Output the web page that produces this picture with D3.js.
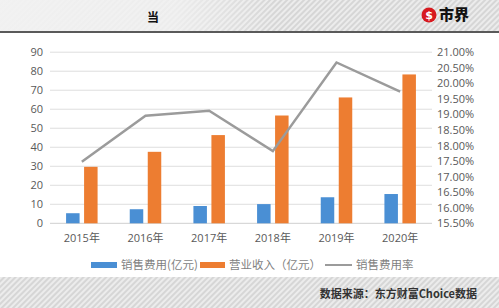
<!DOCTYPE html>
<html>
<head>
<meta charset="utf-8">
<script src="https://cdn.jsdelivr.net/npm/d3@7"></script>
<style>
  body { margin: 0; background: #fff; }
  svg { display: block; font-family: "Open Sans", "Noto Sans CJK SC", sans-serif; }
</style>
</head>
<body>
<div id="chart"></div>
<script>
const years = ["2015年", "2016年", "2017年", "2018年", "2019年", "2020年"];
const salesCost = [5.3, 7.4, 9.1, 10.1, 13.7, 15.4];
const revenue = [29.7, 37.6, 46.4, 56.7, 66.2, 78.3];
const costRate = [17.48, 18.96, 19.12, 17.82, 20.67, 19.73];
const leftTicks = [0, 10, 20, 30, 40, 50, 60, 70, 80, 90];
const rightTicks = [15.5, 16, 16.5, 17, 17.5, 18, 18.5, 19, 19.5, 20, 20.5, 21];
const legendNames = ["销售费用(亿元)", "营业收入（亿元）", "销售费用率"];

const W = 499, H = 308;
const svg = d3.select("#chart").append("svg")
  .attr("width", W)
  .attr("height", H);

// hatched bands
const defs = svg.append("defs");
const hatch = defs.append("pattern")
  .attr("id", "hatch")
  .attr("patternUnits", "userSpaceOnUse")
  .attr("width", 4).attr("height", 4)
  .attr("patternTransform", "rotate(-45)");
hatch.append("rect").attr("width", 4).attr("height", 4).attr("fill", "#d6d6d6");
hatch.append("rect").attr("width", 4).attr("height", 2).attr("fill", "#ececec");

const fade = defs.append("linearGradient").attr("id", "fade")
  .attr("x1", "0%").attr("x2", "100%");
fade.append("stop").attr("offset", "0%").attr("stop-color", "#f2f2f2").attr("stop-opacity", 0.95);
fade.append("stop").attr("offset", "35%").attr("stop-color", "#f2f2f2").attr("stop-opacity", 0.8);
fade.append("stop").attr("offset", "55%").attr("stop-color", "#f2f2f2").attr("stop-opacity", 0);

svg.append("rect").attr("x", 0).attr("y", 0).attr("width", W).attr("height", 32).attr("fill", "url(#hatch)");
svg.append("rect").attr("x", 0).attr("y", 0).attr("width", W).attr("height", 32).attr("fill", "url(#fade)");
svg.append("rect").attr("x", 0).attr("y", 31).attr("width", W).attr("height", 2).attr("fill", "#5a5a5a");
svg.append("rect").attr("x", 0).attr("y", 277).attr("width", W).attr("height", H - 277).attr("fill", "url(#hatch)");

// header bits
svg.append("text").attr("x", 153).attr("y", 22)
  .attr("text-anchor", "middle")
  .style("font-family", "Noto Sans CJK SC").style("font-weight", 700).style("font-size", "12px")
  .attr("fill", "#111").text("当");

svg.append("circle").attr("cx", 429).attr("cy", 15).attr("r", 7.5).attr("fill", "#d7191f");
svg.append("text").attr("x", 429).attr("y", 19)
  .attr("text-anchor", "middle")
  .style("font-family", "DejaVu Sans").style("font-weight", 700).style("font-size", "11px")
  .attr("fill", "#fff").text("$");
svg.append("text").attr("x", 439).attr("y", 20)
  .style("font-family", "Noto Sans CJK SC").style("font-weight", 900).style("font-size", "15px")
  .attr("fill", "#111").text("市界");

// plot scales
const plot = { left: 50, right: 432, top: 52.2, bottom: 223.3 };
const x = d3.scaleBand().domain(years).range([plot.left, plot.right]);
const yL = d3.scaleLinear().domain([0, 90]).range([plot.bottom, plot.top]);
const yR = d3.scaleLinear().domain([15.5, 21]).range([plot.bottom, plot.top]);

// gridlines
svg.append("g")
  .selectAll("line")
  .data(leftTicks)
  .join("line")
  .attr("x1", plot.left).attr("x2", plot.right)
  .attr("y1", d => yL(d)).attr("y2", d => yL(d))
  .attr("stroke", d => d === 0 ? "#cfcfcf" : "#dedede")
  .attr("stroke-width", 1);

// left axis labels
svg.append("g")
  .selectAll("text")
  .data(leftTicks)
  .join("text")
  .attr("x", 43).attr("y", d => yL(d) + 4)
  .attr("text-anchor", "end")
  .style("font-size", "11px")
  .attr("fill", "#595959")
  .text(d => d);

// right axis labels
svg.append("g")
  .selectAll("text")
  .data(rightTicks)
  .join("text")
  .attr("x", 437).attr("y", d => yR(d) + 4)
  .style("font-size", "11px")
  .attr("fill", "#595959")
  .text(d => d.toFixed(2) + "%");

// x labels
svg.append("g")
  .selectAll("text")
  .data(years)
  .join("text")
  .attr("x", d => x(d) + x.bandwidth() / 2)
  .attr("y", 242)
  .attr("text-anchor", "middle")
  .style("font-size", "11px")
  .attr("fill", "#595959")
  .text(d => d);

// bars
const barW = 13.5, gap = 4.5;
svg.append("g")
  .selectAll("rect")
  .data(salesCost)
  .join("rect")
  .attr("x", (d, i) => x(years[i]) + x.bandwidth() / 2 - gap / 2 - barW)
  .attr("y", d => yL(d))
  .attr("width", barW)
  .attr("height", d => yL(0) - yL(d))
  .attr("fill", "#4a8fd4");

svg.append("g")
  .selectAll("rect")
  .data(revenue)
  .join("rect")
  .attr("x", (d, i) => x(years[i]) + x.bandwidth() / 2 + gap / 2)
  .attr("y", d => yL(d))
  .attr("width", barW)
  .attr("height", d => yL(0) - yL(d))
  .attr("fill", "#ed7d31");

// rate line
const line = d3.line()
  .x((d, i) => x(years[i]) + x.bandwidth() / 2)
  .y(d => yR(d));
svg.append("path")
  .datum(costRate)
  .attr("d", line)
  .attr("fill", "none")
  .attr("stroke", "#9b9b9b")
  .attr("stroke-width", 2.5);

// legend
const lg = svg.append("g").style("font-family", "Noto Sans CJK SC").style("font-size", "11.5px");
lg.append("rect").attr("x", 91).attr("y", 262).attr("width", 26).attr("height", 6).attr("fill", "#4a8fd4");
lg.append("text").attr("x", 121).attr("y", 269).attr("fill", "#7f7f7f").text(legendNames[0]);
lg.append("rect").attr("x", 200).attr("y", 262).attr("width", 25).attr("height", 6).attr("fill", "#ed7d31");
lg.append("text").attr("x", 229).attr("y", 269).attr("fill", "#7f7f7f").text(legendNames[1]);
lg.append("line").attr("x1", 325).attr("x2", 352).attr("y1", 265).attr("y2", 265)
  .attr("stroke", "#9b9b9b").attr("stroke-width", 2);
lg.append("text").attr("x", 356).attr("y", 269).attr("fill", "#7f7f7f").text(legendNames[2]);

// source
svg.append("text").attr("x", 477).attr("y", 298)
  .attr("text-anchor", "end")
  .style("font-family", "Noto Sans CJK SC").style("font-weight", 700).style("font-size", "11px")
  .attr("fill", "#333").text("数据来源：东方财富Choice数据");
</script>
</body>
</html>
